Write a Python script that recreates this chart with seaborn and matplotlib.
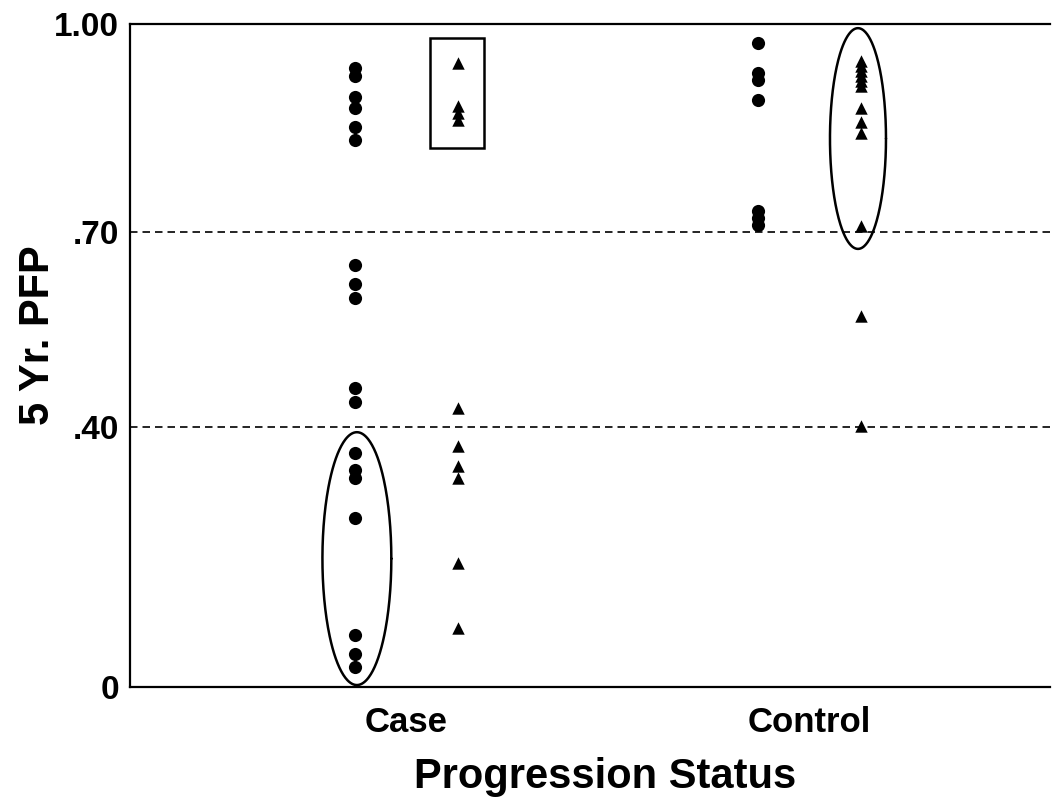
import numpy as np
import pandas as pd
import matplotlib
matplotlib.use("Agg")
import matplotlib.pyplot as plt
import seaborn as sns
from matplotlib.patches import Rectangle

# ---- data (5-year PFP values) ----
statuses = ["Case", "Control"]
case_circle = [0.937, 0.925, 0.895, 0.879, 0.851, 0.833, 0.649, 0.620, 0.598,
               0.460, 0.438, 0.360, 0.334, 0.322, 0.260, 0.080, 0.051, 0.031]
case_triangle = [0.944, 0.882, 0.872, 0.862, 0.429, 0.371, 0.340, 0.322, 0.191, 0.091]
control_circle = [0.973, 0.929, 0.919, 0.890, 0.730, 0.720, 0.710]
control_triangle = [0.947, 0.940, 0.932, 0.925, 0.918, 0.911, 0.879, 0.859, 0.843,
                    0.709, 0.571, 0.402]
y_ticks = [0, 0.40, 0.70, 1.00]
y_tick_labels = ["0", ".40", ".70", "1.00"]
cutoffs = [0.40, 0.70]

rows = []
for status, grp, vals in [("Case", "circle", case_circle), ("Case", "triangle", case_triangle),
                          ("Control", "circle", control_circle), ("Control", "triangle", control_triangle)]:
    for v in vals:
        rows.append({"status": status, "group": grp, "pfp": v})
df = pd.DataFrame(rows)
offsets = {"circle": -0.127, "triangle": 0.129}
df["xpos"] = df["status"].map({s: i for i, s in enumerate(statuses)}) + df["group"].map(offsets)

sns.set_theme(style="white")
plt.rcParams["font.family"] = ["Liberation Sans", "DejaVu Sans"]
plt.rcParams["text.color"] = "black"
plt.rcParams["axes.labelcolor"] = "black"
plt.rcParams["xtick.color"] = "black"
plt.rcParams["ytick.color"] = "black"

W, H = 1052, 798
fig = plt.figure(figsize=(W / 100, H / 100), dpi=100)
ax = fig.add_axes([130 / W, 1 - 687 / H, 920 / W, 663 / H])

# piecewise-linear y scale as in the original figure
kv = [-1.0, 0.0, 0.4, 0.7, 1.0, 2.0]
kp = [-650.0, 0.0, 260.0, 455.0, 663.0, 1356.0]
fwd = lambda v: np.interp(v, kv, kp)
inv = lambda p: np.interp(p, kp, kv)
ax.set_yscale("function", functions=(fwd, inv))

sns.scatterplot(data=df[df.group == "circle"], x="xpos", y="pfp", marker="o",
                color="black", s=90, linewidth=0, legend=False, ax=ax, zorder=3)
sns.scatterplot(data=df[df.group == "triangle"], x="xpos", y="pfp", marker="^",
                color="black", s=80, linewidth=0, legend=False, ax=ax, zorder=3)

for c in cutoffs:
    ax.axhline(c, color="black", lw=1.2, ls=(0, (4.5, 3)), zorder=1)

xmin, xmax = -0.685, 1.598
ax.set_xlim(xmin, xmax)
ax.set_ylim(0, 1.0)


def draw_ellipse(cx, w, ylo, yhi):
    t = np.linspace(0, 2 * np.pi, 300)
    plo, phi = fwd(ylo), fwd(yhi)
    pc, ph = (plo + phi) / 2, (phi - plo) / 2
    xs = cx + w / 2 * np.cos(t)
    ys = inv(pc + ph * np.sin(t))
    ax.plot(xs, ys, color="black", lw=1.8, zorder=2, clip_on=False)


draw_ellipse(-0.122, 0.171, 0.003, 0.392)
draw_ellipse(1.1215, 0.139, 0.674, 0.994)
ax.add_patch(Rectangle((0.0594, 0.821), 0.134, 0.159, fill=False, ec="black", lw=1.8, zorder=2))

ax.set_xticks([0, 1])
ax.set_xticklabels(statuses)
ax.set_yticks(y_ticks)
ax.set_yticklabels(y_tick_labels)
ax.yaxis.set_minor_locator(matplotlib.ticker.NullLocator())
ax.tick_params(axis="x", length=0, pad=14, labelsize=25, labelcolor="black")
ax.tick_params(axis="y", length=0, pad=8, labelsize=24, labelcolor="black")
for lab in ax.get_xticklabels() + ax.get_yticklabels():
    lab.set_fontweight("bold")

ax.set_xlabel("Progression Status", fontsize=30, fontweight="bold", color="black")
ax.set_ylabel("5 Yr. PFP", fontsize=30, fontweight="bold", color="black")
ax.xaxis.set_label_coords((605 - 130) / 920, -0.105)
ax.yaxis.set_label_coords((58 - 130) / 920, (687 - 335) / 663)

for side in ["left", "bottom", "top"]:
    ax.spines[side].set_color("black")
    ax.spines[side].set_linewidth(1.6)
ax.spines["right"].set_visible(False)
ax.set_facecolor("white")

fig.savefig("out.png", dpi=100, facecolor="white")
